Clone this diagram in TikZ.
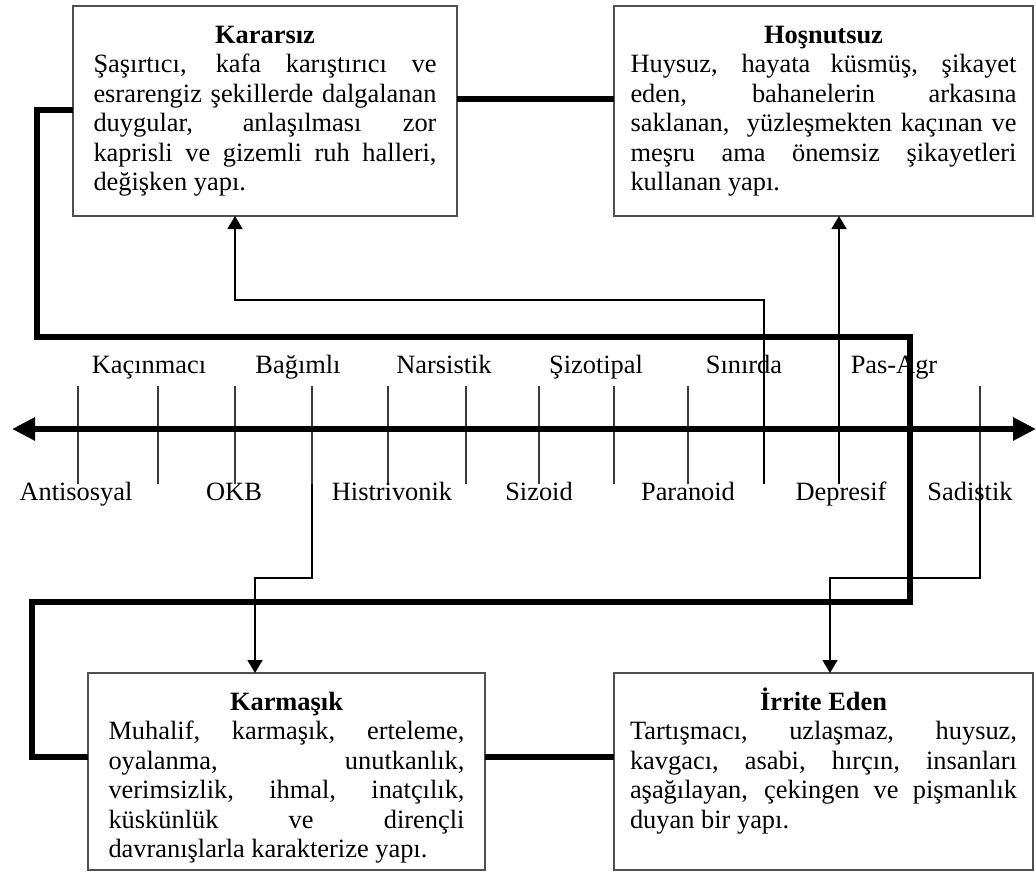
\documentclass[tikz,border=0pt]{standalone}
\usepackage{fontspec}
\setmainfont{Liberation Serif}
\usetikzlibrary{arrows.meta,calc}

\definecolor{framegray}{HTML}{505050}
\definecolor{tickgray}{HTML}{3A3A3A}

% one line of a box: title, justified line, last (left) line
\newcommand{\tline}[1]{\vspace*{2.5pt}\makebox[\linewidth][c]{\strut\smash{\textbf{#1}}}\par}
\newcommand{\jline}[1]{\makebox[\linewidth][s]{\strut #1}\par}
\newcommand{\lline}[1]{\makebox[\linewidth][l]{\strut #1}\par}

\begin{document}
\begin{tikzpicture}[x=0.5pt,y=-0.5pt,
  font=\fontsize{13.2}{14.75}\selectfont,
  card/.style={draw=framegray, line width=0.75pt, anchor=north west,
    inner ysep=5.75pt, outer sep=0pt, fill=white},
  tag/.style={anchor=base, inner sep=0pt},
  tick/.style={draw=tickgray, line width=0.75pt},
  link/.style={draw=black, line width=0.75pt,
    -{Triangle[length=6.5pt,width=7.5pt]}},
  bond/.style={draw=black, line width=2.6pt, line join=miter},
  axis/.style={draw=black, line width=3pt,
    {Triangle[length=11.5pt,width=11pt]}-{Triangle[length=11.5pt,width=11pt]}}
]
\useasboundingbox (0,0) rectangle (1036,872);

% ---- the four boxes ----
\node[card, inner xsep=10.25pt] (kararsiz) at (73,6)
  {\parbox[t][93.5pt][t]{171.5pt}{%
    \tline{Kararsız}
    \jline{Şaşırtıcı, kafa karıştırıcı ve}
    \jline{esrarengiz şekillerde dalgalanan}
    \jline{duygular, anlaşılması zor}
    \jline{kaprisli ve gizemli ruh halleri,}
    \lline{değişken yapı.}}};

\node[card, inner xsep=8.25pt] (hos) at (614,6)
  {\parbox[t][93.5pt][t]{193pt}{%
    \tline{Hoşnutsuz}
    \jline{Huysuz, hayata küsmüş, şikayet}
    \jline{eden, bahanelerin arkasına}
    \jline{saklanan,\ \ yüzleşmekten kaçınan ve}
    \jline{meşru ama önemsiz şikayetleri}
    \lline{kullanan yapı.}}};

\node[card, inner xsep=10.25pt] (karmasik) at (88,673)
  {\parbox[t][87pt][t]{178pt}{%
    \tline{Karmaşık}
    \jline{Muhalif, karmaşık, erteleme,}
    \jline{oyalanma, unutkanlık,}
    \jline{verimsizlik, ihmal, inatçılık,}
    \jline{küskünlük ve dirençli}
    \lline{davranışlarla karakterize yapı.}}};

\node[card, inner xsep=8pt] (irrite) at (614,673)
  {\parbox[t][87pt][t]{193.5pt}{%
    \tline{İrrite Eden}
    \jline{Tartışmacı, uzlaşmaz, huysuz,}
    \jline{kavgacı, asabi, hırçın, insanları}
    \jline{aşağılayan, çekingen ve pişmanlık}
    \lline{duyan bir yapı.}}};

% ---- scale ticks ----
\foreach \x/\n in {78/1,158/2,235/3,312/4,388/5,466/6,539/7,614/8,688/9,764/10,839/11,980/12}{
  \coordinate (t\n a) at (\x,386);
  \coordinate (t\n b) at (\x,484);
  \draw[tick] (t\n a) -- (t\n b);
}

% ---- axis ----
\coordinate (axL) at (12,429);
\coordinate (axR) at (1036,429);
\draw[axis] (axL) -- (axR);

% ---- thick frame joining the boxes ----
\coordinate (h0) at (0,99);
\coordinate (a1) at (37,110);
\coordinate (a2) at (910,337);
\coordinate (a3) at (910,602);
\coordinate (a4) at (32,602);
\coordinate (a5) at (32,757);
\draw[bond] (kararsiz.east |- h0) -- (hos.west |- h0);
\draw[bond] (kararsiz.west |- a1) -- (a1) |- (a2) -- (a3) -- (a4) -- (a5)
  -- (karmasik.west |- a5);
\draw[bond] (karmasik.east |- a5) -- (irrite.west |- a5);

% ---- arrows from the scale to the boxes ----
\coordinate (s1) at (764,300);
\coordinate (s2) at (235,300);
\draw[link] (t10b) -- (s1) -- (s2) -- (s2 |- kararsiz.south);

\draw[link] (t11b) -- (t11b |- hos.south);

\coordinate (b1) at (312,578);
\coordinate (b2) at (255,578);
\draw[link] (t4b) -- (b1) -- (b2) -- (b2 |- karmasik.north);

\coordinate (d1) at (980,578);
\coordinate (d2) at (830,578);
\draw[link] (t12b) -- (d1) -- (d2) -- (d2 |- irrite.north);

% ---- labels above the axis ----
\node[tag] (kacinmaci) at (149,373) {Kaçınmacı};
\node[tag] (bagimli)   at (298,373) {Bağımlı};
\node[tag] (narsistik) at (444,373) {Narsistik};
\node[tag] (sizotipal) at (596,373) {Şizotipal};
\node[tag] (sinirda)   at (744,373) {Sınırda};
\node[tag] (pasagr)    at (894,373) {Pas-Agr};

% ---- labels below the axis ----
\node[tag] (antisosyal)  at (76,500)  {Antisosyal};
\node[tag] (okb)         at (234,500) {OKB};
\node[tag] (histrivonik) at (392,500) {Histrivonik};
\node[tag] (sizoid)      at (539,500) {Sizoid};
\node[tag] (paranoid)    at (688,500) {Paranoid};
\node[tag] (depresif)    at (841,500) {Depresif};
\node[tag] (sadistik)    at (970,500) {Sadistik};
\end{tikzpicture}
\end{document}
